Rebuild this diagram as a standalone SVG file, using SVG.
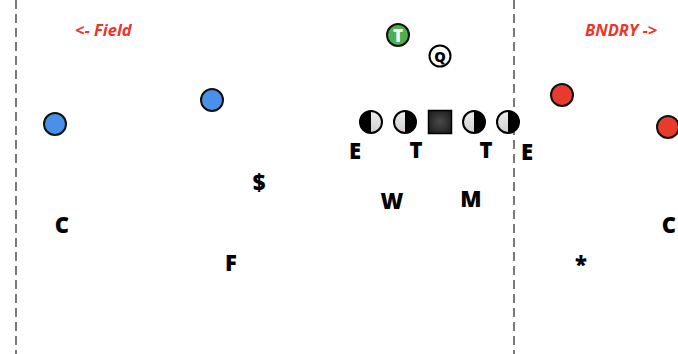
<svg xmlns="http://www.w3.org/2000/svg" width="678" height="354" viewBox="0 0 678 354">
<style>
.lbl{font-family:"Open Sans","Liberation Sans",sans-serif;font-weight:800;font-size:22px;fill:#000;text-anchor:middle}
.red{font-family:"Open Sans","Liberation Sans",sans-serif;font-weight:bold;font-style:italic;font-size:16.5px;fill:#e8382d}
.dash{stroke:#222;stroke-width:1.2;stroke-dasharray:9,5;fill:none}
.blue{fill:#4a8fe8;stroke:#111;stroke-width:2}
.redc{fill:#e83a2d;stroke:#111;stroke-width:2}
.lin{stroke:#000;stroke-width:2}
</style>
<defs>
<radialGradient id="sq" cx="0.5" cy="0.5" r="0.6"><stop offset="0" stop-color="#4a4a4a"/><stop offset="1" stop-color="#1e1e1e"/></radialGradient>
<linearGradient id="lt" x1="0" y1="0" x2="0" y2="1"><stop offset="0" stop-color="#eeeeee"/><stop offset="1" stop-color="#cfcfcf"/></linearGradient>
</defs>
<rect width="678" height="354" fill="#fff"/>
<g id="lines">
<line class="dash" x1="16" y1="0" x2="16" y2="354"/>
<line class="dash" x1="514" y1="0" x2="514" y2="354"/>
</g>
<text class="red" x="75" y="36">&lt;- Field</text>
<text class="red" x="585" y="36">BNDRY -&gt;</text>
<g id="T-top"><circle cx="398" cy="35" r="11" fill="#4caf50" stroke="#111" stroke-width="2"/><text x="398" y="41.5" font-family="'Open Sans','Liberation Sans',sans-serif" font-weight="800" font-size="17" fill="#fff" text-anchor="middle">T</text></g>
<g id="Q"><circle cx="440" cy="56" r="10.5" fill="#fff" stroke="#000" stroke-width="2"/><text x="440" y="61.5" font-family="'Open Sans','Liberation Sans',sans-serif" font-weight="800" font-size="14.5" fill="#000" text-anchor="middle">Q</text></g>
<g id="ol1"><circle cx="371" cy="122" r="11" fill="url(#lt)"/><path d="M371,111 A11,11 0 0 0 371,133 Z" fill="#000"/><circle class="lin" cx="371" cy="122" r="11" fill="none"/></g>
<g id="ol2"><circle cx="405" cy="122" r="11" fill="url(#lt)"/><path d="M405,111 A11,11 0 0 1 405,133 Z" fill="#000"/><circle class="lin" cx="405" cy="122" r="11" fill="none"/></g>
<g id="center"><rect x="428.5" y="110.5" width="23" height="23" fill="url(#sq)" stroke="#000" stroke-width="1.5"/></g>
<g id="ol4"><circle cx="474" cy="122" r="11" fill="url(#lt)"/><path d="M474,111 A11,11 0 0 1 474,133 Z" fill="#000"/><circle class="lin" cx="474" cy="122" r="11" fill="none"/></g>
<g id="ol5"><circle cx="508" cy="122" r="11" fill="url(#lt)"/><path d="M508,111 A11,11 0 0 1 508,133 Z" fill="#000"/><circle class="lin" cx="508" cy="122" r="11" fill="none"/></g>
<g id="blue1"><circle class="blue" cx="55" cy="124" r="11"/></g>
<g id="blue2"><circle class="blue" cx="212" cy="100" r="11"/></g>
<g id="red1"><circle class="redc" cx="562" cy="95" r="11"/></g>
<g id="red2"><circle class="redc" cx="668" cy="127" r="11"/></g>
<g id="labels">
<text class="lbl" x="355" y="159">E</text>
<text class="lbl" x="416" y="158">T</text>
<text class="lbl" x="486" y="158">T</text>
<text class="lbl" x="527" y="160">E</text>
<text class="lbl" x="259" y="191">$</text>
<text class="lbl" x="392" y="209">W</text>
<text class="lbl" x="471" y="207">M</text>
<text class="lbl" x="62" y="233">C</text>
<text class="lbl" x="669" y="233">C</text>
<text class="lbl" x="231" y="271">F</text>
<text class="lbl" x="581" y="273">*</text>
</g>
</svg>
